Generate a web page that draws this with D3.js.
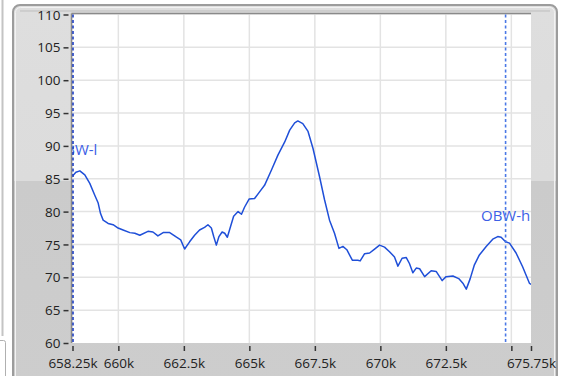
<!DOCTYPE html>
<html>
<head>
<meta charset="utf-8">
<script src="https://cdn.jsdelivr.net/npm/d3@7"></script>
<style>
  html, body { margin: 0; padding: 0; background: #ffffff; }
  svg { display: block; }
  text { font-family: "Open Sans", "Noto Sans", sans-serif; }
</style>
</head>
<body>
<svg id="chart" width="567" height="376"></svg>
<script>
// Spectrum trace: frequency (kHz) and level (dB)
const freqK = [658.25, 658.38, 658.53, 658.72, 658.91, 659.10, 659.23, 659.32, 659.42, 659.61,
  659.80, 659.99, 660.18, 660.44, 660.63, 660.82, 661.13, 661.32, 661.51, 661.71,
  661.96, 662.22, 662.38, 662.53, 662.72, 662.91, 663.10, 663.29, 663.42, 663.55,
  663.64, 663.74, 663.84, 663.96, 664.06, 664.16, 664.28, 664.40, 664.57, 664.70,
  664.82, 664.99, 665.20, 665.39, 665.58, 665.84, 666.09, 666.35, 666.54, 666.73,
  666.85, 667.04, 667.24, 667.43, 667.68, 667.87, 668.06, 668.25, 668.42, 668.57,
  668.72, 668.93, 669.14, 669.23, 669.40, 669.59, 669.78, 669.97, 670.16, 670.35,
  670.54, 670.67, 670.83, 670.99, 671.11, 671.24, 671.37, 671.50, 671.69, 671.94,
  672.13, 672.36, 672.51, 672.77, 672.99, 673.15, 673.28, 673.43, 673.59, 673.78,
  674.04, 674.29, 674.48, 674.61, 674.78, 674.93, 675.18, 675.43, 675.69, 675.75];
const levelDb = [85.4, 86.0, 86.2, 85.6, 84.3, 82.5, 81.3, 79.7, 78.7, 78.2,
  78.0, 77.5, 77.2, 76.8, 76.7, 76.4, 77.0, 76.9, 76.3, 76.8,
  76.8, 76.1, 75.7, 74.3, 75.4, 76.4, 77.2, 77.6, 78.0, 77.5,
  76.2, 74.9, 76.2, 76.9, 76.7, 76.1, 77.7, 79.3, 80.0, 79.6,
  80.7, 81.9, 82.0, 83.0, 84.0, 86.3, 88.6, 90.6, 92.4, 93.5,
  93.8, 93.4, 92.2, 89.6, 85.3, 81.8, 78.7, 76.7, 74.4, 74.7,
  74.2, 72.6, 72.6, 72.5, 73.6, 73.7, 74.3, 74.9, 74.6, 73.9,
  73.1, 71.7, 72.9, 73.0, 72.1, 70.7, 71.4, 71.3, 70.1, 71.0,
  70.9, 69.5, 70.1, 70.2, 69.8, 69.1, 68.2, 69.8, 71.9, 73.4,
  74.7, 75.8, 76.2, 76.1, 75.4, 75.2, 73.7, 71.6, 69.1, 68.9];

// Axis ticks
const yTicks = [60, 65, 70, 75, 80, 85, 90, 95, 100, 105, 110];
const xTicks = [658.25, 660, 662.5, 665, 667.5, 670, 672.5, 675, 675.75];
const xTickLabels = ["658.25k", "660k", "662.5k", "665k", "667.5k", "670k", "672.5k", "", "675.75k"];
const xGrid = [660, 662.5, 665, 667.5, 670, 672.5, 675];

// Cursors
const cursorNames = ["OBW-l", "OBW-h"];
const cursorFreqK = [658.25, 674.78];
const cursorLevel = [85.4, 75.4];

const svg = d3.select("#chart");
const plot = { left: 72.5, right: 531, top: 14.5, bottom: 343 };

const x = d3.scaleLinear().domain([658.25, 675.75]).range([plot.left, plot.right]);
const y = d3.scaleLinear().domain([60, 110]).range([plot.bottom, plot.top]);

// ---- Panel frame ----
svg.append("line").attr("x1", 2.5).attr("x2", 2.5).attr("y1", 0).attr("y2", 336)
  .attr("stroke", "#c4c4c4").attr("stroke-width", 2);
svg.append("path").attr("d", "M0,340.5 H3.5 a2,2 0 0 1 2,2 V376")
  .attr("fill", "none").attr("stroke", "#b0b0b0").attr("stroke-width", 1);

const defs = svg.append("defs");
const grad = defs.append("linearGradient").attr("id", "panelFill")
  .attr("x1", 0).attr("y1", 0).attr("x2", 0).attr("y2", 1);
grad.append("stop").attr("offset", "0").attr("stop-color", "#dedede");
grad.append("stop").attr("offset", "0.458").attr("stop-color", "#dcdcdc");
grad.append("stop").attr("offset", "0.458").attr("stop-color", "#cbcbcb");
grad.append("stop").attr("offset", "1").attr("stop-color", "#cdcdcd");

svg.append("rect").attr("x", 13).attr("y", 5).attr("width", 544).attr("height", 384)
  .attr("rx", 7).attr("fill", "url(#panelFill)")
  .attr("stroke", "#9c9c9c").attr("stroke-width", 2);
svg.append("rect").attr("x", 15.5).attr("y", 7.5).attr("width", 539).attr("height", 380)
  .attr("rx", 5).attr("fill", "none").attr("stroke", "#f2f2f2").attr("stroke-width", 1);
svg.append("line").attr("x1", 20).attr("x2", 550).attr("y1", 11).attr("y2", 11)
  .attr("stroke", "#bdbdbd").attr("stroke-width", 1);

// ---- Plot area ----
svg.append("rect").attr("x", plot.left).attr("y", plot.top)
  .attr("width", plot.right - plot.left).attr("height", plot.bottom - plot.top)
  .attr("fill", "#ffffff");

const grid = svg.append("g").attr("stroke", "#e3e3e3").attr("stroke-width", 1.5);
grid.selectAll("line.h").data(yTicks.slice(1, -1)).join("line")
  .attr("x1", plot.left).attr("x2", plot.right)
  .attr("y1", d => y(d)).attr("y2", d => y(d));
grid.selectAll("line.v").data(xGrid).join("line")
  .attr("x1", d => x(d)).attr("x2", d => x(d))
  .attr("y1", plot.top).attr("y2", plot.bottom);

// plot border (inset edge on top and left)
svg.append("line").attr("x1", plot.left - 1).attr("x2", plot.right).attr("y1", plot.top - 1).attr("y2", plot.top - 1)
  .attr("stroke", "#8a8a8a").attr("stroke-width", 1.5);
svg.append("line").attr("x1", plot.left - 1).attr("x2", plot.left - 1).attr("y1", plot.top - 1).attr("y2", plot.bottom)
  .attr("stroke", "#8a8a8a").attr("stroke-width", 1.5);

// ---- Axes ----
const yAxis = d3.axisLeft(y).tickValues(yTicks).tickSize(5).tickPadding(3).tickFormat(d3.format("d"));
const gy = svg.append("g").attr("transform", `translate(${plot.left - 4},0)`).call(yAxis);
gy.select(".domain").remove();
gy.selectAll(".tick line").attr("stroke", "#333").attr("stroke-width", 1.5);
gy.selectAll(".tick text").attr("fill", "#222").style("font-size", "13.5px")
  .attr("dy", "0.34em");

const xAxis = d3.axisBottom(x).tickValues(xTicks).tickSize(5).tickPadding(7)
  .tickFormat((d, i) => xTickLabels[i]);
const gx = svg.append("g").attr("transform", `translate(0,${plot.bottom + 3})`).call(xAxis);
gx.select(".domain").remove();
gx.selectAll(".tick line").attr("stroke", "#333").attr("stroke-width", 1.5);
gx.selectAll(".tick text").attr("fill", "#222").style("font-size", "13.5px");

// ---- Trace and cursor labels (clipped to plot) ----
defs.append("clipPath").attr("id", "plotClip").append("rect")
  .attr("x", plot.left).attr("y", plot.top)
  .attr("width", plot.right - plot.left).attr("height", plot.bottom - plot.top);
const inner = svg.append("g").attr("clip-path", "url(#plotClip)");

const pts = freqK.map((f, i) => [f, levelDb[i]]);
inner.append("path").datum(pts)
  .attr("fill", "none").attr("stroke", "#1f4fd8").attr("stroke-width", 1.5)
  .attr("stroke-linejoin", "round")
  .attr("d", d3.line().x(d => x(d[0])).y(d => y(d[1])));

const cursorColor = ["#1f3fc0", "#4a78e6"];
cursorFreqK.forEach((f, i) => {
  svg.append("line")
    .attr("x1", x(f) + (i === 0 ? 0.5 : 0)).attr("x2", x(f) + (i === 0 ? 0.5 : 0))
    .attr("y1", plot.top).attr("y2", plot.bottom)
    .attr("stroke", cursorColor[i]).attr("stroke-width", 1.6)
    .attr("stroke-dasharray", "3,2.5");
  inner.append("text")
    .attr("x", x(f) + (i === 0 ? 3 : 0)).attr("y", y(cursorLevel[i]) - 21)
    .attr("text-anchor", "middle").attr("fill", "#3c5fe6")
    .style("font-size", "15px")
    .text(cursorNames[i]);
});
</script>
</body>
</html>
